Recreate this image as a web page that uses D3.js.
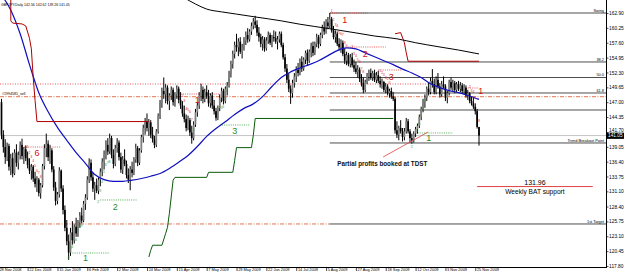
<!DOCTYPE html>
<html>
<head>
<meta charset="utf-8">
<script src="https://cdn.jsdelivr.net/npm/d3@7"></script>
<style>
  body { margin: 0; background: #fff; }
  svg text { font-family: "Liberation Sans", Arial, sans-serif; }
</style>
</head>
<body>
<svg id="chart" width="625" height="276"></svg>
<script>
// GBPJPY daily, bar 0 = end of Nov 2008 ... bar 256 = 27 Nov 2009
const opens = [
  147.0,141.2,139.0,137.2,139.2,135.5,137.0,134.3,138.0,136.2,
  137.6,139.4,137.4,138.6,137.0,135.8,134.8,135.5,133.4,132.4,
  133.2,130.8,132.2,135.6,138.8,139.6,137.2,138.4,135.0,131.8,
  129.4,130.6,134.8,131.6,127.8,124.6,122.2,120.2,123.8,122.4,
  124.8,123.6,125.6,126.8,125.9,128.9,130.0,133.2,136.2,133.6,
  131.6,132.2,131.2,133.2,134.6,136.4,137.8,139.4,138.2,140.6,
  137.6,136.0,138.8,139.8,137.2,135.0,136.8,136.0,134.0,133.2,
  135.0,134.4,136.8,138.8,136.2,138.4,140.8,142.4,143.6,142.4,
  143.4,141.2,140.4,139.4,141.8,144.6,146.8,149.0,148.4,149.6,
  147.2,148.2,149.2,147.0,148.4,149.4,147.4,146.4,145.0,144.0,
  142.4,143.8,141.6,140.6,143.0,145.2,146.4,148.2,149.2,147.6,
  148.8,148.0,146.8,148.2,146.4,145.4,144.2,146.0,147.8,149.0,
  147.2,149.4,150.0,152.2,153.8,155.6,157.2,156.8,157.8,156.0,
  156.8,158.0,159.0,158.2,159.6,160.6,161.4,160.8,159.4,158.6,
  157.4,158.2,156.6,158.0,159.0,157.6,158.6,158.4,157.8,158.2,
  159.2,157.2,155.0,153.0,151.0,149.4,148.6,150.4,151.6,152.8,
  152.2,154.2,153.0,154.6,155.8,154.4,156.0,157.0,155.8,157.4,
  158.6,157.4,159.0,160.2,159.6,161.2,160.6,161.8,159.8,158.6,
  159.2,157.4,156.8,157.6,155.6,154.4,155.4,153.8,155.0,153.6,
  153.0,152.4,152.8,151.2,150.4,149.2,150.6,151.8,152.2,151.4,
  152.2,151.0,151.8,150.8,150.2,150.6,149.2,149.8,148.6,149.0,
  148.0,147.6,142.0,141.2,142.4,141.8,140.8,141.8,143.6,141.8,
  140.6,140.2,141.4,142.2,142.8,144.4,145.8,147.0,147.8,149.4,
  148.8,150.8,150.2,148.8,151.0,149.8,148.4,150.2,149.8,147.8,
  148.6,150.6,149.6,150.4,149.2,150.2,149.4,150.0,149.0,149.6,
  148.2,148.6,147.2,146.8,146.2,145.4,142.56
]
const highs = [
  147.6,142.0,140.4,139.8,139.6,137.8,138.0,138.6,139.5,138.2,
  140.0,140.5,139.0,139.3,138.2,137.0,136.0,135.8,134.6,133.8,
  133.5,132.6,136.0,139.5,141.4,140.2,139.4,138.8,135.6,132.8,
  131.0,135.4,135.0,132.2,128.6,126.0,123.4,124.6,125.8,125.2,
  126.4,126.0,127.4,128.2,129.4,130.6,133.8,137.0,136.8,134.4,
  132.8,133.4,133.6,135.2,137.0,138.4,140.2,140.6,141.4,141.0,
  138.6,139.4,140.6,140.2,138.0,137.4,138.6,136.6,135.2,135.6,
  136.4,137.2,139.6,139.2,138.8,141.2,143.0,144.2,145.0,144.0,
  143.8,142.6,141.0,142.2,145.0,147.4,149.6,151.4,150.2,150.0,
  148.6,149.8,149.6,148.8,150.0,149.8,148.8,147.2,146.4,144.8,
  144.6,144.2,142.8,143.6,145.8,147.0,148.8,150.3,149.8,149.4,
  150.0,149.2,148.6,148.8,147.4,146.0,146.4,148.4,149.6,149.4,
  149.8,150.6,152.6,154.4,156.2,157.8,159.2,158.4,158.6,157.4,
  158.6,159.6,160.2,160.0,161.2,162.0,162.4,161.6,160.4,159.2,
  158.8,158.6,158.6,159.6,159.4,159.0,159.8,159.6,158.8,159.6,
  159.6,157.6,155.6,153.8,152.2,150.0,151.0,152.2,153.4,154.0,
  154.8,155.2,155.0,156.2,156.4,156.4,157.6,157.8,157.8,159.2,
  159.0,159.4,160.8,161.4,161.8,162.2,162.9,162.2,160.6,159.8,
  159.6,158.4,158.2,158.0,156.6,156.0,155.8,155.6,155.8,154.6,
  154.2,153.6,153.2,152.0,151.4,151.0,152.2,152.8,153.0,152.6,
  152.8,152.4,152.6,151.6,151.2,150.8,150.4,150.2,149.4,149.6,
  148.8,147.9,143.6,142.8,143.8,142.4,142.4,144.2,144.0,142.2,
  141.4,141.8,142.6,143.2,144.8,146.2,147.6,148.4,149.8,150.6,
  151.4,152.9,151.2,151.6,152.2,150.4,150.8,151.6,150.2,149.0,
  151.0,151.4,151.0,150.8,150.6,150.8,150.6,150.4,150.2,150.0,
  149.2,148.8,148.0,147.8,146.8,145.8,142.62
]
const lows = [
  140.4,138.0,136.0,136.5,134.8,134.0,133.6,134.0,135.5,135.0,
  136.8,136.8,136.0,136.5,135.2,134.2,133.2,132.8,131.8,131.0,
  130.2,129.8,131.8,135.0,137.2,136.5,136.0,134.5,131.2,128.6,
  128.8,130.0,131.0,127.0,124.0,121.5,118.9,119.6,121.6,121.8,
  123.0,123.0,124.6,125.4,125.6,127.8,129.6,132.6,133.0,131.0,
  129.6,130.8,130.6,132.0,133.8,135.0,136.8,137.6,137.8,137.0,
  135.2,135.6,138.0,136.6,134.4,134.2,135.6,133.4,132.6,131.3,
  133.6,134.0,136.2,135.6,135.8,138.0,139.8,141.2,141.8,141.0,
  140.6,139.8,138.8,139.0,141.4,144.0,146.0,147.6,146.8,146.6,
  145.6,147.4,146.4,146.2,147.6,146.8,145.8,144.4,143.4,141.8,
  142.0,141.0,139.6,140.2,142.6,144.4,145.8,147.2,146.8,147.0,
  147.6,146.2,146.0,145.8,144.8,143.7,143.8,145.4,147.0,146.6,
  146.8,148.2,149.6,151.4,153.0,154.8,156.0,155.2,155.6,154.8,
  156.2,157.2,157.6,157.8,159.0,160.0,160.2,158.8,157.8,156.8,
  156.2,156.0,156.2,157.4,157.2,156.8,157.8,157.4,156.4,157.6,
  156.8,154.6,152.4,150.4,148.8,146.7,147.8,149.6,150.6,151.6,
  151.8,152.4,152.6,153.8,153.6,154.0,155.0,155.2,155.4,156.8,
  156.6,157.0,158.4,159.0,159.2,160.0,160.2,159.4,158.2,157.6,
  157.0,156.2,155.8,155.2,153.8,153.6,153.4,153.2,153.2,152.4,
  152.0,151.4,150.6,149.8,148.6,148.8,150.2,150.8,151.0,150.8,
  150.6,150.4,150.4,149.6,149.4,148.8,148.6,148.2,147.8,147.6,
  147.2,141.4,140.6,140.2,141.4,140.0,140.2,141.4,141.4,139.8,
  139.6,139.8,140.8,141.4,142.4,143.8,145.2,146.0,147.2,148.2,
  148.4,149.6,148.4,148.4,149.4,147.8,148.0,149.4,147.2,146.8,
  148.2,149.2,149.0,148.6,148.8,149.0,148.8,148.6,148.4,147.8,
  147.4,146.8,146.4,145.8,144.8,142.3,139.26
]
const closes = [
  141.2,139.0,137.2,139.2,135.5,137.0,134.3,138.0,136.2,137.6,
  139.4,137.4,138.6,137.0,135.8,134.8,135.5,133.4,132.4,133.2,
  130.8,132.2,135.6,138.8,139.6,137.2,138.4,135.0,131.8,129.4,
  130.6,134.8,131.6,127.8,124.6,122.2,120.2,123.8,122.4,124.8,
  123.6,125.6,126.8,125.9,128.9,130.0,133.2,136.2,133.6,131.6,
  132.2,131.2,133.2,134.6,136.4,137.8,139.4,138.2,140.6,137.6,
  136.0,138.8,139.8,137.2,135.0,136.8,136.0,134.0,133.2,135.0,
  134.4,136.8,138.8,136.2,138.4,140.8,142.4,143.6,142.4,143.4,
  141.2,140.4,139.4,141.8,144.6,146.8,149.0,148.4,149.6,147.2,
  148.2,149.2,147.0,148.4,149.4,147.4,146.4,145.0,144.0,142.4,
  143.8,141.6,140.6,143.0,145.2,146.4,148.2,149.2,147.6,148.8,
  148.0,146.8,148.2,146.4,145.4,144.2,146.0,147.8,149.0,147.2,
  149.4,150.0,152.2,153.8,155.6,157.2,156.8,157.8,156.0,156.8,
  158.0,159.0,158.2,159.6,160.6,161.4,160.8,159.4,158.6,157.4,
  158.2,156.6,158.0,159.0,157.6,158.6,158.4,157.8,158.2,159.2,
  157.2,155.0,153.0,151.0,149.4,148.6,150.4,151.6,152.8,152.2,
  154.2,153.0,154.6,155.8,154.4,156.0,157.0,155.8,157.4,158.6,
  157.4,159.0,160.2,159.6,161.2,160.6,161.8,159.8,158.6,159.2,
  157.4,156.8,157.6,155.6,154.4,155.4,153.8,155.0,153.6,153.0,
  152.4,152.8,151.2,150.4,149.2,150.6,151.8,152.2,151.4,152.2,
  151.0,151.8,150.8,150.2,150.6,149.2,149.8,148.6,149.0,148.0,
  147.6,142.0,141.2,142.4,141.8,140.8,141.8,143.6,141.8,140.6,
  140.2,141.4,142.2,142.8,144.4,145.8,147.0,147.8,149.4,148.8,
  150.8,150.2,148.8,151.0,149.8,148.4,150.2,149.8,147.8,148.6,
  150.6,149.6,150.4,149.2,150.2,149.4,150.0,149.0,149.6,148.2,
  148.6,147.2,146.8,146.2,145.4,142.6,141.05
]

// moving averages / bands: [bar, price]
const blueMA = [[0,166.1],[5,163.4],[10,159.2],[15,153.7],[20,148.7],[25,145.3],[30,142.5],[35,140.2],
  [40,138.0],[45,136.1],[50,134.1],[55,133.2],[60,132.9],[65,132.9],[70,133.1],[75,133.4],[80,133.8],
  [85,134.3],[90,135.2],[95,136.3],[100,137.5],[105,139.1],[110,140.9],[115,142.3],[120,143.5],
  [125,144.8],[130,145.9],[135,146.7],[140,148.0],[145,149.8],[150,151.4],[155,152.4],[160,153.1],
  [165,153.7],[170,154.4],[175,155.3],[180,156.2],[185,156.7],[190,156.5],[195,155.8],[200,155.1],
  [205,154.4],[210,153.7],[215,152.9],[220,152.2],[225,151.4],[230,150.3],[235,149.6],[240,149.05],
  [245,148.7],[250,148.2],[256,147.5]]
const blackMA = [[98,165.6],[104,164.5],[110,163.6],[118,163.1],[126,162.7],[136,162.2],[150,161.5],
  [160,160.9],[176,160.1],[190,159.35],[200,158.8],[212,158.3],[222,157.6],[234,156.9],[245,156.3],[256,155.6]]
const redBandA = [[5,165.4],[5,161.5],[6,161.1],[11,160.95],[13,160.6],[15,158.4],[16,156.5],[17,151.4],
  [18,147.3],[19,143.55],[79,143.55]]
const redBandB = [[211,159.2],[214,159.4],[216,157.6],[217,155.8],[218,154.3],[256,154.3]]
const greenStop = [[79,119.4],[80,120.6],[81,121.5],[86,121.5],[88,123.6],[89,124.7],[90,127.2],[92,133.1],
  [93,133.6],[110,133.6],[111,134.5],[124,134.5],[125,136.6],[126,138.9],[134,138.9],[135,141.1],[136,144.1],[210,144.1]]

// fibonacci levels drawn from the swing bar
const fibStart = 176
const fibLevels = [162.90, 154.17, 151.40, 148.64, 145.61, 139.73, 125.29]
const fibNames = ["Swing", "38.2", "50.0", "61.8", "", "Trend Breakout Point", "1st Target"]

const bidPrice = 141.05
const orderPrice = 147.98
const orderTarget = 125.29
const redDotLevel = 150.24
const batSupport = 131.96

// count markers: [bar, price, label]
const redBig = [[184,161.6,"1"],[195,155.6,"2"],[209,151.5,"3"],[257,149.0,"1"],[19,137.9,"6"],[105,147.4,"1"]]
const greenBig = [[45,119.2,"1"],[61,128.3,"2"],[125,141.9,"3"],[229,140.7,"1"]]
const redDots = [[176,197,162.90],[182,206,156.84],[202,215,152.74],[12,32,139.01],[96,117,148.46],[250,256,149.53]]
const greenDots = [[38,58,120.12],[53,73,129.57],[117,133,142.93],[223,242,141.51]]
const redSmall = [
  [14,138.8,"1"],[15,137.8,"2"],[16,137.0,"3"],[17,136.4,"4"],[18,135.4,"5"],[19,134.6,"6"],[20,134.2,"7"],[21,133.4,"8"],
  [97,148.0,"2"],[98,147.0,"3"],[99,145.6,"4"],[100,145.4,"5"],[101,145.0,"6"],[102,143.6,"7"],
  [177,163.0,"1"],[178,161.4,"2"],[179,160.6,"3"],[180,160.4,"4"],[181,159.2,"5"],[182,159.0,"6"],[183,158.8,"7"],[184,157.4,"8"],[185,156.8,"9"],
  [188,156.6,"2"],[189,155.4,"3"],[190,155.0,"4"],[191,154.4,"5"],[192,154.0,"6"],[193,152.8,"7"],[194,152.2,"8"],
  [203,152.4,"1"],[204,152.0,"2"],[205,151.6,"3"],[206,151.2,"4"],[207,151.0,"5"],[208,150.2,"6"],
  [251,149.6,"2"],[252,148.8,"3"],[253,148.6,"4"],[254,147.6,"5"],[256,143.4,"8"]]
const greenSmall = [
  [37,119.0,"2"],[38,120.8,"3"],[39,121.0,"4"],[40,122.2,"5"],[41,122.2,"6"],[42,123.8,"7"],[43,124.6,"8"],[44,124.8,"9"],
  [53,129.0,"2"],[54,131.0,"3"],[55,132.6,"4"],[56,134.4,"5"],[57,135.6,"6"],[58,136.0,"7"],[59,136.2,"8"],
  [104,141.8,"2"],[105,143.6,"3"],[119,145.8,"5"],[120,146.0,"6"],[121,147.4,"7"],[122,148.8,"8"],[123,150.6,"9"],
  [221,138.8,"2"],[222,139.8,"3"],[224,141.6,"5"],[225,143.0,"6"],[226,144.4,"7"],[227,145.6,"8"],[228,147.0,"9"]]

const profitLine = [[204.6,137.23],[228.7,141.69]]
const batRange = [255, 317]

const priceTicks = [162.90,160.25,157.60,154.95,152.30,149.65,147.00,144.35,141.70,139.05,136.40,133.75,131.10,128.40,125.75,123.10,120.45,117.80]
const dateBars = [-2,14,30,46,62,78,94,110,126,142,158,174,190,206,222,238,254]
const dateLabels = ["28 Nov 2008","22 Dec 2008","15 Jan 2009","6 Feb 2009","2 Mar 2009","24 Mar 2009","15 Apr 2009",
  "7 May 2009","29 May 2009","22 Jun 2009","14 Jul 2009","5 Aug 2009","27 Aug 2009","18 Sep 2009","12 Oct 2009",
  "3 Nov 2009","25 Nov 2009"]

const W = 625, H = 276, plotR = 606, plotB = 268

const x = d3.scaleLinear().domain([0, 256]).range([1.5, 479])
const y = d3.scaleLinear().domain([117.80, 162.90]).range([266, 13])

const svg = d3.select("#chart")
svg.append("rect").attr("width", W).attr("height", H).attr("fill", "#fff")
svg.append("clipPath").attr("id", "clip")
  .append("rect").attr("width", plotR).attr("height", plotB)
const g = svg.append("g").attr("clip-path", "url(#clip)")

function hline(px0, px1, price, stroke, dash, sw) {
  return g.append("line")
    .attr("x1", px0).attr("x2", px1)
    .attr("y1", y(price)).attr("y2", y(price))
    .attr("stroke", stroke).attr("stroke-width", sw || 0.8)
    .attr("stroke-dasharray", dash || null)
}

// full width lines
hline(0, plotR, bidPrice, "#c4c4c4", null, 1)
hline(0, x(231), redDotLevel, "#e03030", "1,1.5", 0.8)
hline(0, plotR, orderPrice, "#e0663a", "4,1.5,1,1.5", 0.9)
hline(0, x(fibStart), orderTarget, "#e0663a", "4,1.5,1,1.5", 0.9)

// fib levels
fibLevels.forEach((lv, k) => {
  hline(x(fibStart), plotR, lv, "#3a3a3a", null, 0.9)
  if (fibNames[k]) {
    g.append("text").attr("x", 604).attr("y", y(lv) - 1.3)
      .attr("text-anchor", "end").attr("font-size", 3.9).attr("fill", "#000")
      .text(fibNames[k])
  }
})

// short count lines
redDots.forEach(d => hline(x(d[0]), x(d[1]), d[2], "#e03030", "1,1.2", 0.8))
greenDots.forEach(d => hline(x(d[0]), x(d[1]), d[2], "#2a9a2a", "1,1.2", 0.8))

// candles
const bars = d3.range(closes.length)
g.append("g").selectAll("line").data(bars).join("line")
  .attr("x1", i => x(i)).attr("x2", i => x(i))
  .attr("y1", i => y(highs[i])).attr("y2", i => y(lows[i]))
  .attr("stroke", "#000").attr("stroke-width", 1)
g.append("g").selectAll("rect").data(bars).join("rect")
  .attr("x", i => x(i) - 0.85).attr("width", 1.7)
  .attr("y", i => y(Math.max(opens[i], closes[i])))
  .attr("height", i => Math.max(0.6, Math.abs(y(opens[i]) - y(closes[i]))))
  .attr("fill", i => closes[i] >= opens[i] ? "#808080" : "#000")

const lin = d3.line().x(d => x(d[0])).y(d => y(d[1]))
const smooth = d3.line().x(d => x(d[0])).y(d => y(d[1])).curve(d3.curveMonotoneX)

g.append("path").attr("d", smooth(blackMA)).attr("fill", "none").attr("stroke", "#000").attr("stroke-width", 1)
g.append("path").attr("d", smooth(blueMA)).attr("fill", "none").attr("stroke", "#1010c0").attr("stroke-width", 1.2)
g.append("path").attr("d", lin(redBandA)).attr("fill", "none").attr("stroke", "#b00000").attr("stroke-width", 1)
g.append("path").attr("d", lin(redBandB)).attr("fill", "none").attr("stroke", "#b00000").attr("stroke-width", 1)
g.append("path").attr("d", lin(greenStop)).attr("fill", "none").attr("stroke", "#0a5a0a").attr("stroke-width", 1)

// count digits
g.append("g").selectAll("text").data(redSmall).join("text")
  .attr("x", d => x(d[0])).attr("y", d => y(d[1]))
  .attr("text-anchor", "middle").attr("font-size", 3.6).attr("fill", "#e02828")
  .text(d => d[2])
g.append("g").selectAll("text").data(greenSmall).join("text")
  .attr("x", d => x(d[0]) - 2).attr("y", d => y(d[1]))
  .attr("text-anchor", "middle").attr("font-size", 3.6).attr("fill", "#3a9a3a")
  .text(d => d[2])
g.append("g").selectAll("text").data(redBig).join("text")
  .attr("x", d => x(d[0])).attr("y", d => y(d[1]))
  .attr("text-anchor", "middle").attr("dominant-baseline", "central")
  .attr("font-size", 9).attr("fill", "#d01010")
  .text(d => d[2])
g.append("g").selectAll("text").data(greenBig).join("text")
  .attr("x", d => x(d[0])).attr("y", d => y(d[1]))
  .attr("text-anchor", "middle").attr("dominant-baseline", "central")
  .attr("font-size", 9).attr("fill", "#1f8f1f")
  .text(d => d[2])

// annotations
g.append("path").attr("d", lin(profitLine)).attr("stroke", "#e04040").attr("stroke-width", 0.8)
g.append("text").attr("x", x(180)).attr("y", y(135.6))
  .attr("font-size", 6.4).attr("font-weight", "bold").attr("fill", "#111")
  .attr("textLength", 90).attr("lengthAdjust", "spacingAndGlyphs")
  .text("Partial profits booked at TDST")
hline(x(batRange[0]), x(batRange[1]), batSupport, "#e04040", null, 1)
const batMid = (x(batRange[0]) + x(batRange[1])) / 2
g.append("text").attr("x", batMid).attr("y", y(batSupport) - 1.8)
  .attr("text-anchor", "middle").attr("font-size", 7).attr("fill", "#000").text("131.96")
g.append("text").attr("x", batMid).attr("y", y(batSupport) + 7.2)
  .attr("text-anchor", "middle").attr("font-size", 6.6).attr("fill", "#000").text("Weekly BAT support")
g.append("text").attr("x", 2).attr("y", y(orderPrice) - 1.3)
  .attr("font-size", 3.6).attr("fill", "#000").text("#1994581_sell")
g.append("text").attr("x", 1).attr("y", 6)
  .attr("font-size", 3.5).attr("fill", "#000").text("GBPJPY,Daily  142.56 142.62 139.26 141.05")

// axes
const yAxis = d3.axisRight(y).tickValues(priceTicks).tickFormat(d => d.toFixed(2))
  .tickSize(2).tickSizeOuter(0).tickPadding(0.6)
const ya = svg.append("g").attr("transform", `translate(${plotR + 0.5},0)`).call(yAxis)
ya.select(".domain").remove()
ya.selectAll("text").attr("font-size", 4.8).attr("fill", "#000")
  .attr("dy", d => d === 141.70 ? "-0.05em" : "0.32em")
ya.selectAll("line").attr("stroke", "#000").attr("stroke-width", 0.7)

const xAxis = d3.axisBottom(x).tickValues(dateBars).tickFormat((d, i) => dateLabels[i])
  .tickSize(3.5).tickSizeOuter(0).tickPadding(0)
const xa = svg.append("g").attr("transform", `translate(0,${plotB - 0.5})`).call(xAxis)
xa.select(".domain").remove()
xa.selectAll("text").attr("font-size", 3.9).attr("fill", "#000")
  .attr("text-anchor", "start").attr("dx", 1.2).attr("y", 0.6)
xa.selectAll("line").attr("stroke", "#000").attr("stroke-width", 0.7)

svg.append("line").attr("x1", 0).attr("x2", plotR + 0.5).attr("y1", plotB - 0.5).attr("y2", plotB - 0.5)
  .attr("stroke", "#000").attr("stroke-width", 1)
svg.append("line").attr("x1", plotR + 0.5).attr("x2", plotR + 0.5).attr("y1", 0).attr("y2", plotB)
  .attr("stroke", "#000").attr("stroke-width", 1)

// current price box
const by = y(bidPrice)
svg.append("rect").attr("x", plotR + 1).attr("y", by - 2.9).attr("width", 17).attr("height", 6.2).attr("fill", "#000")
svg.append("text").attr("x", plotR + 2).attr("y", by + 1.7)
  .attr("font-size", 4.8).attr("fill", "#fff").text(bidPrice.toFixed(2))
</script>
</body>
</html>
